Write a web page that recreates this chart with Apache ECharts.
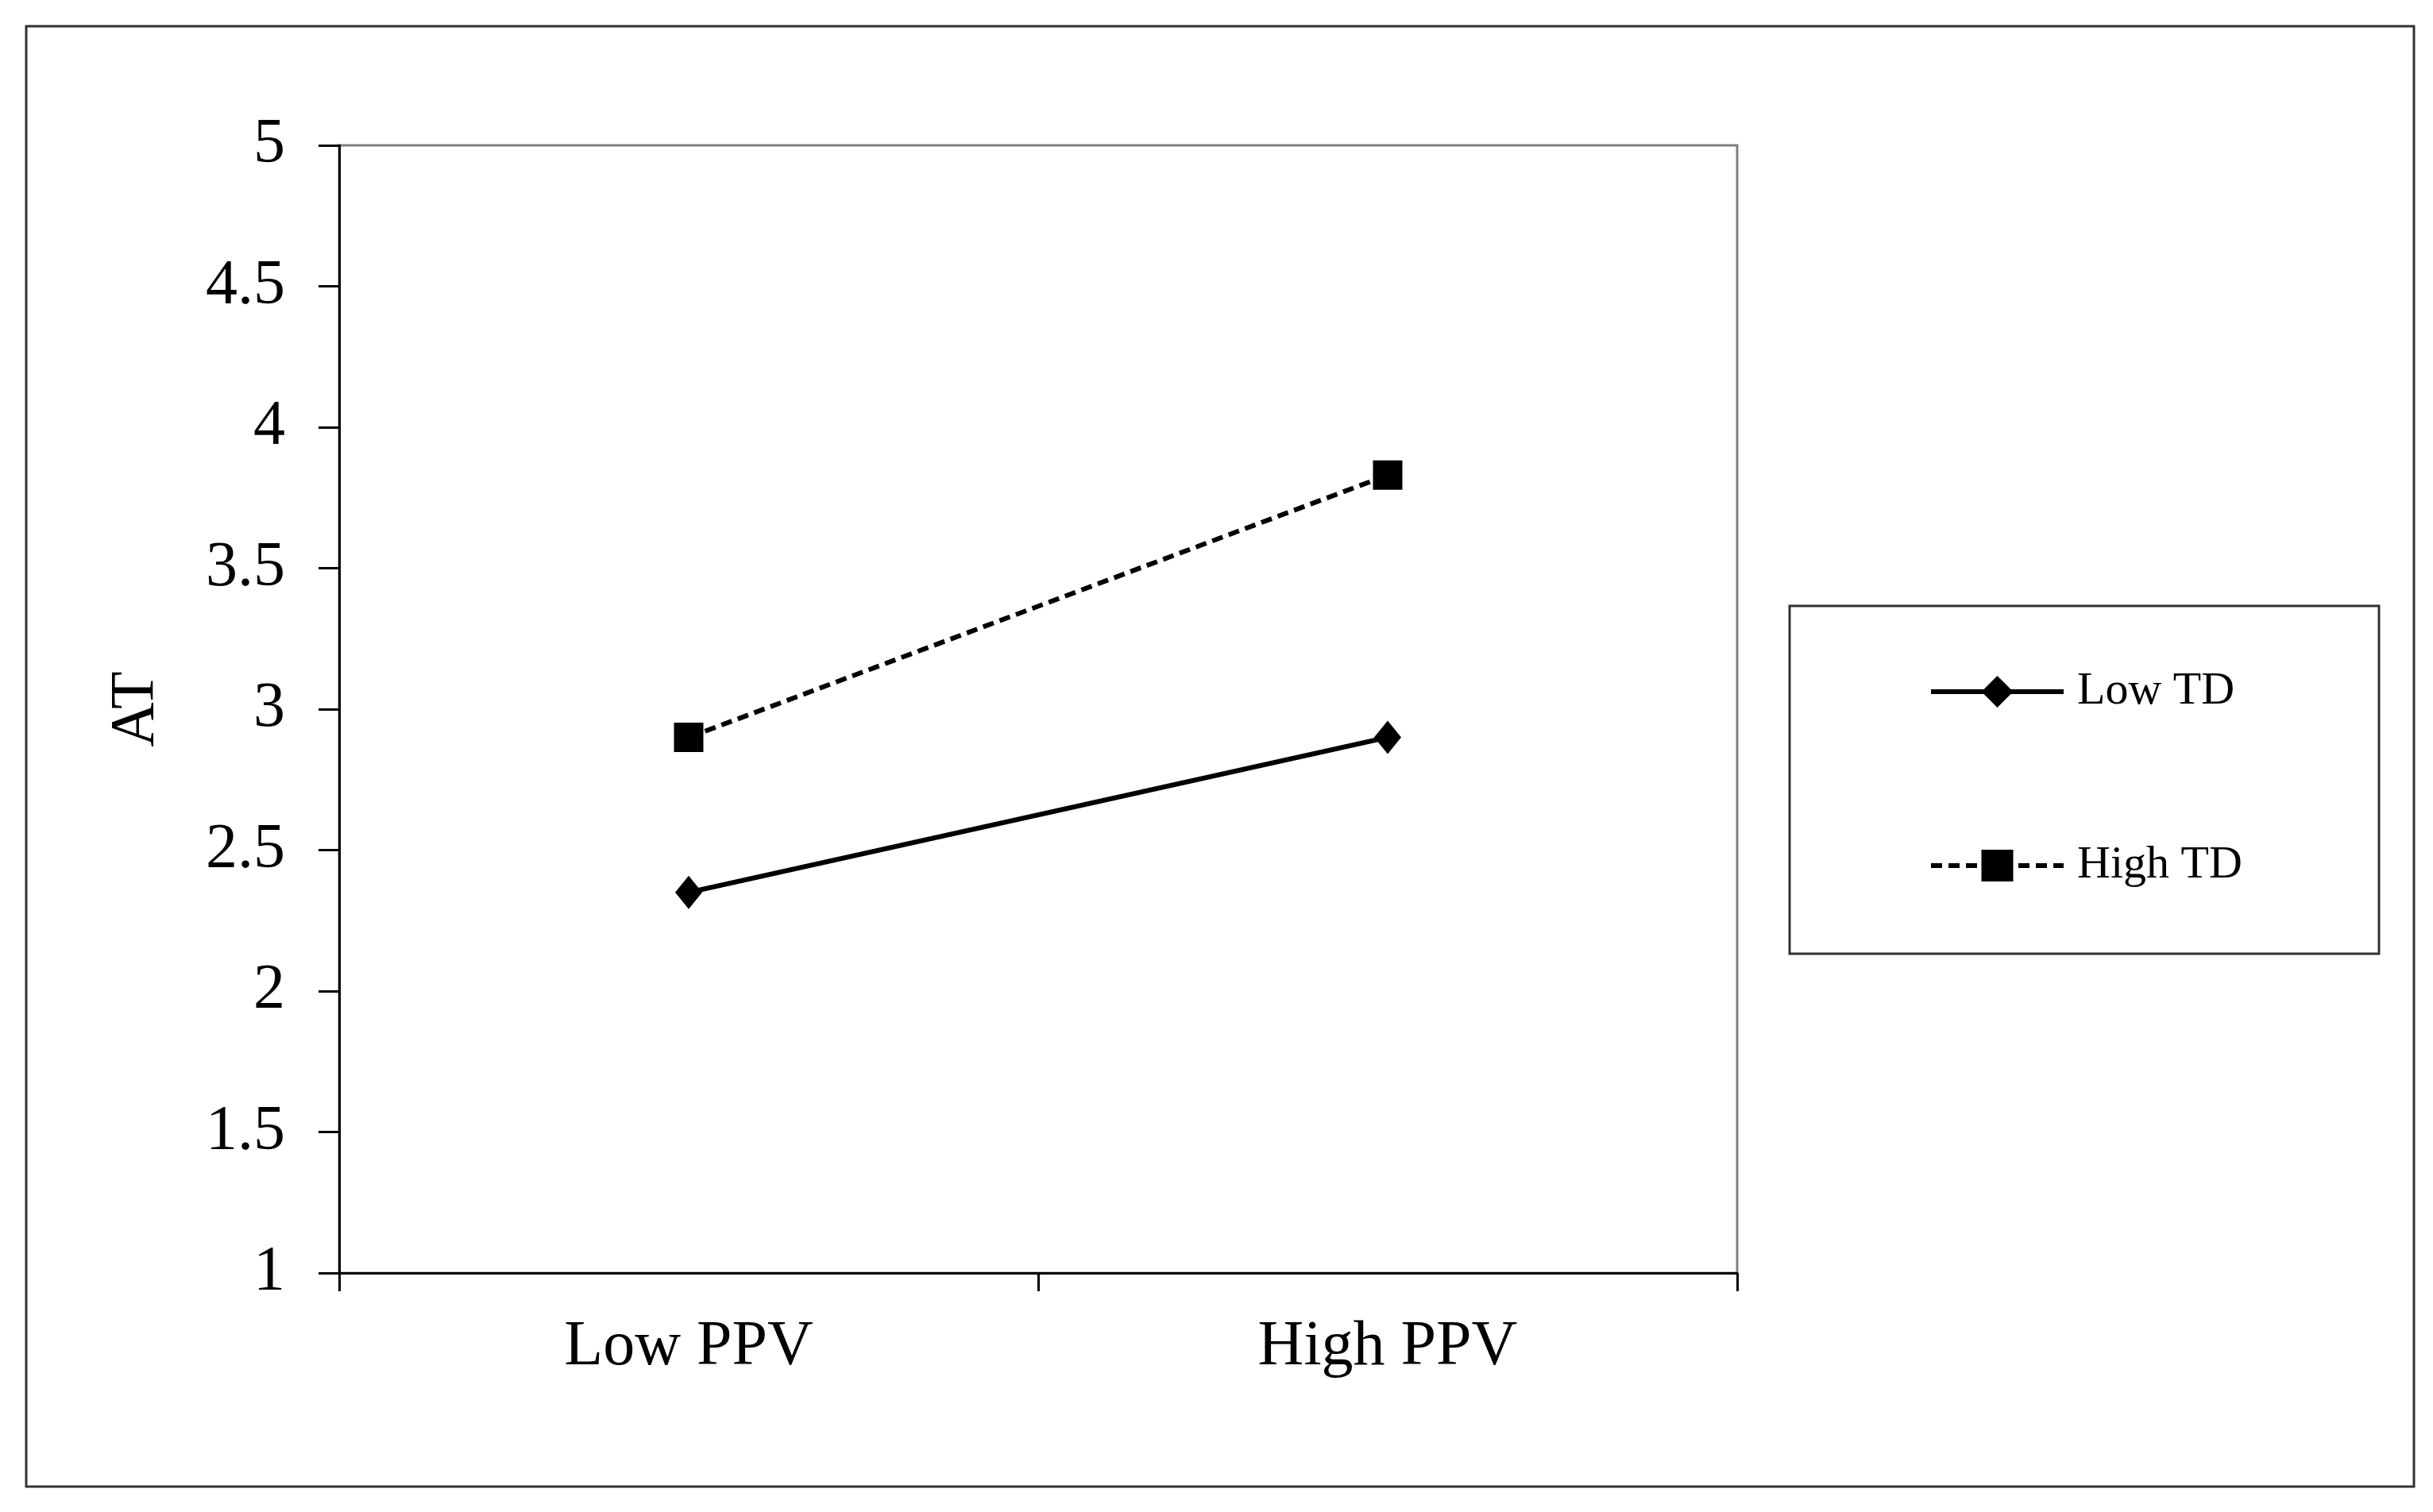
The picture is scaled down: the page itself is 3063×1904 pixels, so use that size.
<!DOCTYPE html>
<html>
<head>
<meta charset="utf-8">
<script src="https://cdn.jsdelivr.net/npm/echarts@6/dist/echarts.min.js"></script>
<style>
  html, body { margin: 0; padding: 0; background: #fff; }
  #main { width: 3063px; height: 1904px; }
</style>
</head>
<body>
<div id="main"></div>
<script>
var myChart = echarts.init(document.getElementById('main'));

// data
var categories = ['Low PPV', 'High PPV'];
var lowTD = [2.35, 2.9];
var highTD = [2.9, 3.83];
var seriesNames = ['Low TD', 'High TD'];

var serif = "'Liberation Serif', serif";

var option = {
    backgroundColor: '#ffffff',
    animation: false,
    textStyle: { fontFamily: serif, color: '#000' },
    graphic: [
        { // outer frame
            type: 'rect',
            shape: { x: 33, y: 33, width: 3006, height: 1839 },
            style: { fill: 'none', stroke: '#333', lineWidth: 3 },
            silent: true
        },
        { // legend frame
            type: 'rect',
            shape: { x: 2253, y: 763, width: 742, height: 438 },
            style: { fill: 'none', stroke: '#333', lineWidth: 3 },
            silent: true
        }
    ],
    grid: {
        left: 427,
        right: 876,
        top: 183,
        bottom: 301,
        show: true,
        borderColor: '#808080',
        borderWidth: 3,
        backgroundColor: 'transparent'
    },
    legend: {
        data: seriesNames,
        orient: 'vertical',
        left: 2428,
        top: 841,
        padding: 0,
        itemWidth: 167,
        itemHeight: 50,
        itemGap: 159,
        lineStyle: { width: 6 },
        textStyle: {
            fontFamily: serif,
            fontSize: 58,
            lineHeight: 60,
            color: '#000',
            padding: [0, 0, 0, 12]
        }
    },
    xAxis: {
        type: 'category',
        data: categories,
        boundaryGap: true,
        axisLine: { lineStyle: { color: '#000', width: 3 } },
        axisTick: { show: true, length: 23, lineStyle: { color: '#000', width: 3 } },
        axisLabel: { fontFamily: serif, fontSize: 80, color: '#000', margin: 54 },
        splitLine: { show: false }
    },
    yAxis: {
        type: 'value',
        min: 1,
        max: 5,
        interval: 0.5,
        name: 'AT',
        nameLocation: 'middle',
        nameGap: 216,
        nameRotate: 90,
        nameTextStyle: { fontFamily: serif, fontSize: 78, color: '#000' },
        axisLine: { show: true, lineStyle: { color: '#000', width: 3 } },
        axisTick: { show: true, length: 26, lineStyle: { color: '#000', width: 3 } },
        axisLabel: { fontFamily: serif, fontSize: 80, color: '#000', margin: 68 },
        splitLine: { show: false }
    },
    series: [
        {
            name: seriesNames[0],
            type: 'line',
            data: lowTD,
            symbol: 'diamond',
            symbolSize: [34, 42],
            lineStyle: { color: '#000', width: 6, type: 'solid' },
            itemStyle: { color: '#000' }
        },
        {
            name: seriesNames[1],
            type: 'line',
            data: highTD,
            symbol: 'rect',
            symbolSize: 37,
            lineStyle: { color: '#000', width: 6, type: [14, 8] },
            itemStyle: { color: '#000' }
        }
    ]
};
myChart.setOption(option);
</script>
</body>
</html>
